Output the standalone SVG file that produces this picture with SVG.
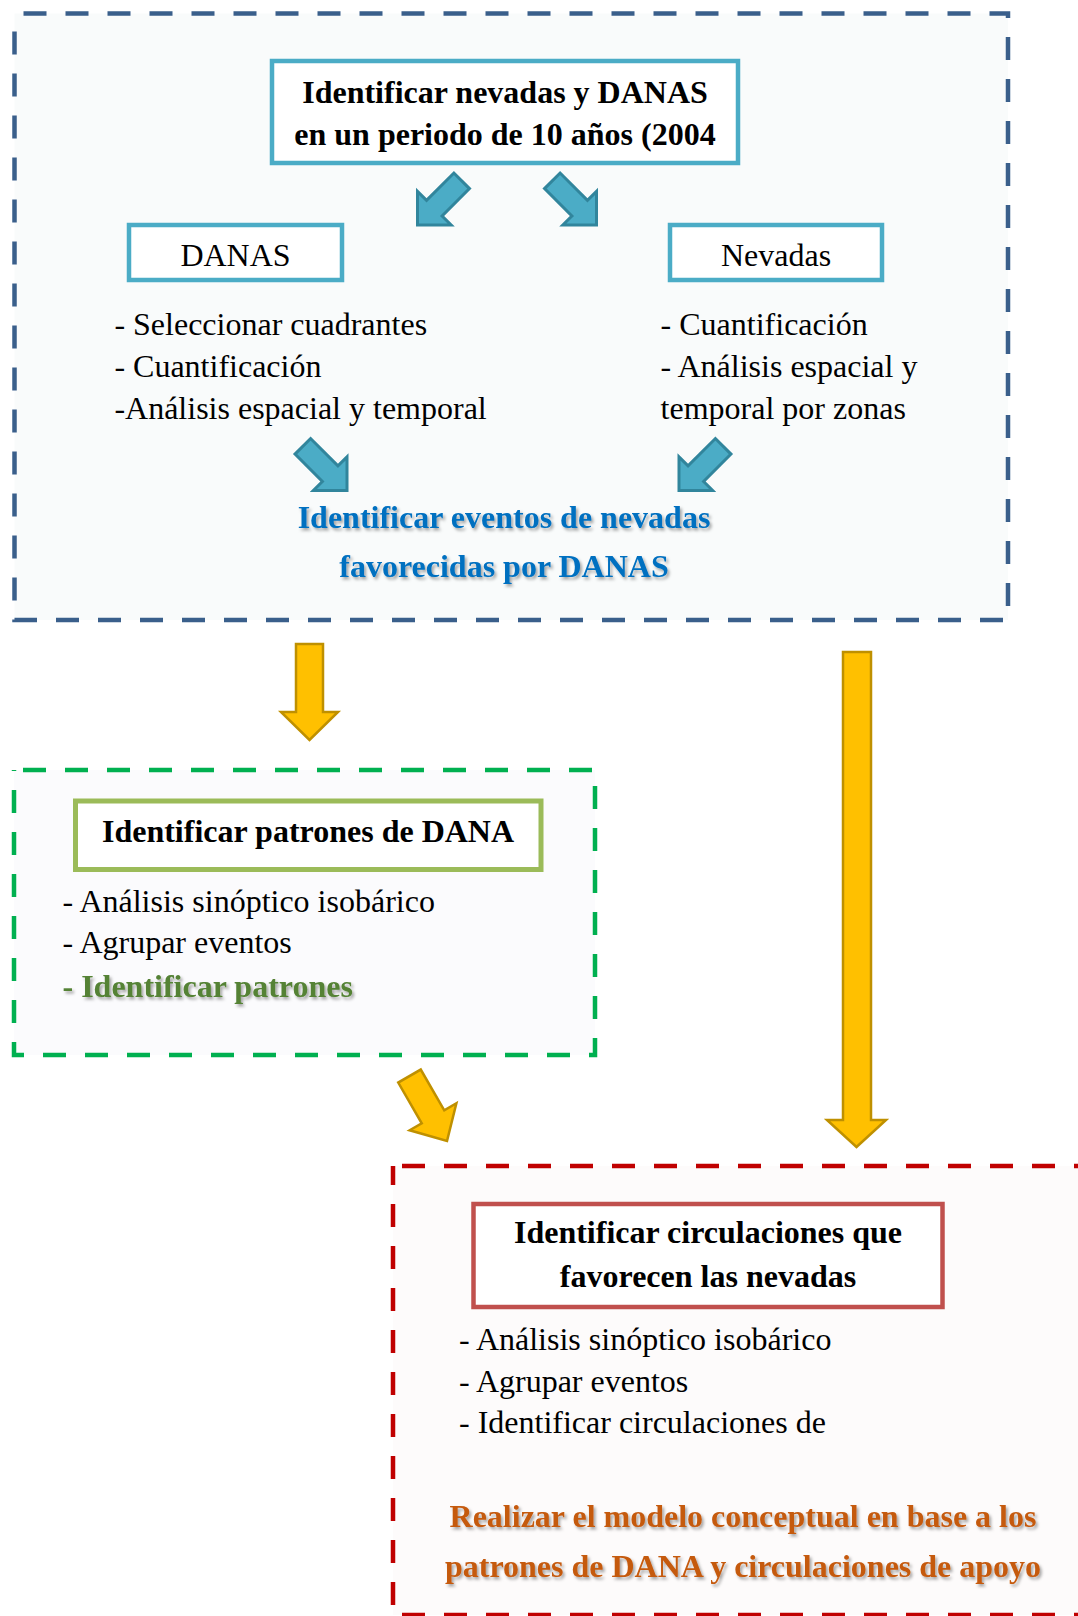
<svg xmlns="http://www.w3.org/2000/svg" width="1078" height="1616" viewBox="0 0 1078 1616">
<defs>
<style>
text{font-family:"Liberation Serif","Times New Roman",serif;font-size:32px;fill:#000}
.b{font-weight:bold}
.c{text-anchor:middle}
.teal{fill:#4bacc6;stroke:#31859c;stroke-width:3}
.yel{fill:#ffc000;stroke:#bf9000;stroke-width:2.5}
.dash{stroke-width:4.5;stroke-dasharray:23 19}
.blue{fill:#0070c0}
.green{fill:#548235}
.orange{fill:#c55a11}
</style>
<filter id="sh" x="-5%" y="-30%" width="110%" height="160%">
<feDropShadow dx="2" dy="2.5" stdDeviation="1.5" flood-color="#000" flood-opacity="0.35"/>
</filter>
<path id="ta" d="M0,0 L-23.8,-23.8 L-23.8,-11 L-62.5,-11 L-62.5,11 L-23.8,11 L-23.8,23.8 Z"/>
</defs>

<g id="container-top">
<rect class="dash" x="14.5" y="13.5" width="993.5" height="606.5" fill="#f9fbfb" stroke="#3a5f8b" stroke-dashoffset="33"/>
</g>
<g id="container-dana">
<rect class="dash" x="14" y="770" width="581" height="285" fill="#fbfbfd" stroke="#00b050" stroke-width="5" stroke-dashoffset="33"/>
</g>
<g id="container-circ">
<rect class="dash" x="393" y="1166" width="720" height="449" fill="#fdfbfb" stroke="#c00000" stroke-dashoffset="33"/>
</g>

<g id="node-title">
<rect x="272" y="61" width="466" height="102" fill="#fff" stroke="#4bacc6" stroke-width="4.5"/>
<text class="b c" x="505" y="103">Identificar nevadas y DANAS</text>
<text class="b c" x="505" y="145">en un periodo de 10 años (2004</text>
</g>

<g id="node-danas">
<rect x="129" y="225" width="213" height="55" fill="#fff" stroke="#4bacc6" stroke-width="4.5"/>
<text class="c" x="235.5" y="266">DANAS</text>
</g>
<g id="list-danas">
<text x="114.4" y="335">- Seleccionar cuadrantes</text>
<text x="114.4" y="377.3">- Cuantificación</text>
<text x="114.4" y="419.3">-Análisis espacial y temporal</text>
</g>

<g id="node-nevadas">
<rect x="670" y="225" width="212" height="55" fill="#fff" stroke="#4bacc6" stroke-width="4.5"/>
<text class="c" x="776" y="266">Nevadas</text>
</g>
<g id="list-nevadas">
<text x="660.6" y="335">- Cuantificación</text>
<text x="660.6" y="377.3">- Análisis espacial y</text>
<text x="660.6" y="419.3">temporal por zonas</text>
</g>

<g id="node-eventos">
<text class="b c blue" x="504" y="528" filter="url(#sh)">Identificar eventos de nevadas</text>
<text class="b c blue" x="504" y="577" filter="url(#sh)">favorecidas por DANAS</text>
</g>

<g id="node-patrones">
<rect x="75.5" y="801" width="465.5" height="68.5" fill="#fff" stroke="#9bbb59" stroke-width="5"/>
<text class="b c" x="308" y="841.7">Identificar patrones de DANA</text>
</g>
<g id="list-patrones">
<text x="62.5" y="911.7">- Análisis sinóptico isobárico</text>
<text x="62.5" y="953.3">- Agrupar eventos</text>
<text class="b green" x="62.5" y="996.7" filter="url(#sh)">- Identificar patrones</text>
</g>

<g id="node-circulaciones">
<rect x="473.5" y="1204" width="469" height="103" fill="#fff" stroke="#c0504d" stroke-width="4.5"/>
<text class="b c" x="708" y="1243.3">Identificar circulaciones que</text>
<text class="b c" x="708" y="1286.7">favorecen las nevadas</text>
</g>
<g id="list-circulaciones">
<text x="459" y="1350">- Análisis sinóptico isobárico</text>
<text x="459" y="1391.7">- Agrupar eventos</text>
<text x="459" y="1433.3">- Identificar circulaciones de</text>
</g>

<g id="node-modelo">
<text class="b c orange" x="743" y="1526.7" filter="url(#sh)">Realizar el modelo conceptual en base a los</text>
<text class="b c orange" x="743" y="1576.7" filter="url(#sh)">patrones de DANA y circulaciones de apoyo</text>
</g>

<g id="connectors">
<use href="#ta" class="teal" transform="translate(417.5,225) rotate(135)"/>
<use href="#ta" class="teal" transform="translate(596.5,225) rotate(45)"/>
<use href="#ta" class="teal" transform="translate(347,490.5) rotate(45)"/>
<use href="#ta" class="teal" transform="translate(679,490.5) rotate(135)"/>
<polygon class="yel" points="296,644 323,644 323,712 338,712 309.5,740 281,712 296,712"/>
<polygon class="yel" points="843,652 871,652 871,1120 886,1120 856.5,1147 827,1120 843,1120"/>
<path class="yel" d="M0,0 L-28,-27 L-28,-13 L-75,-13 L-75,13 L-28,13 L-28,27 Z" transform="translate(447,1141) rotate(60)"/>
</g>
</svg>
